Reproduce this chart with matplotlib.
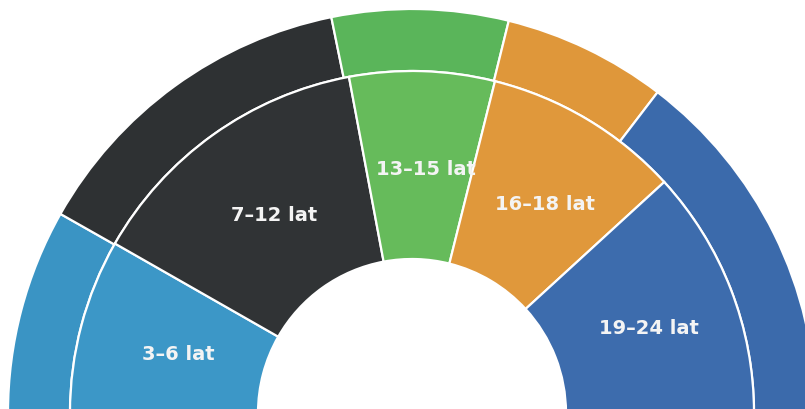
import matplotlib
matplotlib.use("Agg")
import matplotlib.pyplot as plt
import numpy as np

# Data
categories = ["3–6 lat", "7–12 lat", "13–15 lat", "16–18 lat", "19–24 lat"]
inner_values = [16.5, 27.6, 13.7, 18.6, 23.6]
outer_values = [16.4, 27.2, 14.1, 13.1, 29.2]
outer_colors = ["#3a94c4", "#2e3133", "#5ab55a", "#df973a", "#3b6aab"]
inner_colors = ["#3c97c7", "#303335", "#66bb5b", "#e0983b", "#3d6cad"]

fig = plt.figure(figsize=(8.05, 4.09), dpi=100)
ax = fig.add_axes([0, 0, 1, 1])

def half(values):
    # append an invisible filler so the visible part spans the upper half
    return list(values) + [sum(values)]

R_OUT = 404
R_MID = 342
R_IN = 154

wp = dict(edgecolor="white", linewidth=1.6)

outer, _ = ax.pie(half(outer_values), radius=R_OUT, startangle=180,
                  counterclock=False, colors=outer_colors + ["none"],
                  wedgeprops=dict(width=R_OUT - R_MID, **wp))
inner, _ = ax.pie(half(inner_values), radius=R_MID, startangle=180,
                  counterclock=False, colors=inner_colors + ["none"],
                  wedgeprops=dict(width=R_MID - R_IN, **wp))
outer[-1].set_visible(False)
inner[-1].set_visible(False)

for w, lab in zip(inner[:-1], categories):
    ang = np.deg2rad((w.theta1 + w.theta2) / 2)
    r = (R_MID + R_IN) / 2
    ax.annotate(lab, xy=(r * np.cos(ang), r * np.sin(ang)),
                xytext=(4.5, -3.5), textcoords="offset points",
                ha="center", va="center", color="#f4f4f4",
                fontsize=14, fontweight="bold", family="DejaVu Sans")

ax.set_xlim(-412, 393)
ax.set_ylim(4, 413)
ax.set_aspect("equal")
ax.axis("off")
fig.savefig("out.png", dpi=100)
